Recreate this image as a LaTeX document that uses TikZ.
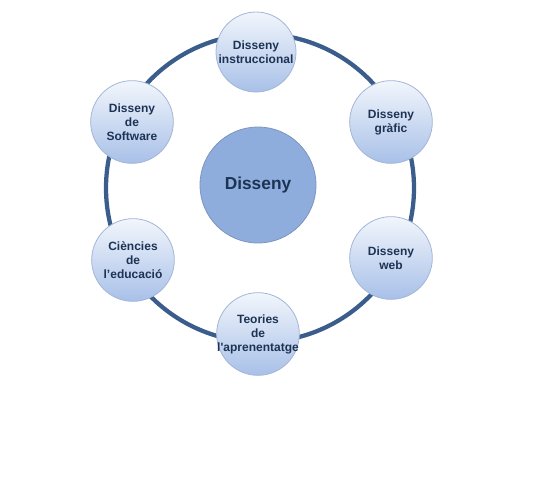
\documentclass[tikz,border=0pt]{standalone}
\usepackage{fontspec}
\setmainfont{Liberation Sans}
\definecolor{ring}{HTML}{3A5D8C}
\definecolor{ink}{HTML}{1D3354}
\definecolor{edge}{HTML}{A3B6D6}
\definecolor{coreblue}{HTML}{8FADDC}
\definecolor{coreedge}{HTML}{7D95BE}
\definecolor{top}{HTML}{F2F6FC}
\definecolor{bot}{HTML}{A8C0E8}
\usetikzlibrary{positioning}
\tikzset{
  topic/.style={circle,draw=edge,line width=0.6pt,top color=top,bottom color=bot,
    minimum size=62pt,inner sep=0pt,align=center,text=ink,
    font=\fontsize{9}{10.5}\selectfont\bfseries},
  core/.style={circle,draw=coreedge,line width=0.6pt,fill=coreblue,
    minimum size=87pt,inner sep=0pt,text=ink,font=\fontsize{13}{15}\selectfont\bfseries},
  wheel/.style={draw=ring,line width=3.2pt},
}
\begin{document}
\begin{tikzpicture}[x=0.75pt,y=0.75pt]
\useasboundingbox (0,0) rectangle (538,480);
\coordinate (mid) at (260,292);
\draw[wheel] (mid) circle[radius=154];
\node[core] (dis) at (258,295) {Disseny};
\node[topic,minimum size=60pt] (ins) at (256,428) {Disseny\\instruccional};
\node[topic] (graf) at (391,358) {Disseny\\gràfic};
\node[topic] (web) at (391,222) {Disseny\\web};
\node[topic,inner sep=-9pt] (teo) at (258,146) {Teories\\de\\l\textquotesingle aprenentatge};
\node[topic,inner sep=-4pt] (cie) at (133,220) {Ciències\\de\\l’educació};
\node[topic,inner sep=-4pt] (soft) at (132,358) {Disseny\\de\\Software};
\end{tikzpicture}
\end{document}
